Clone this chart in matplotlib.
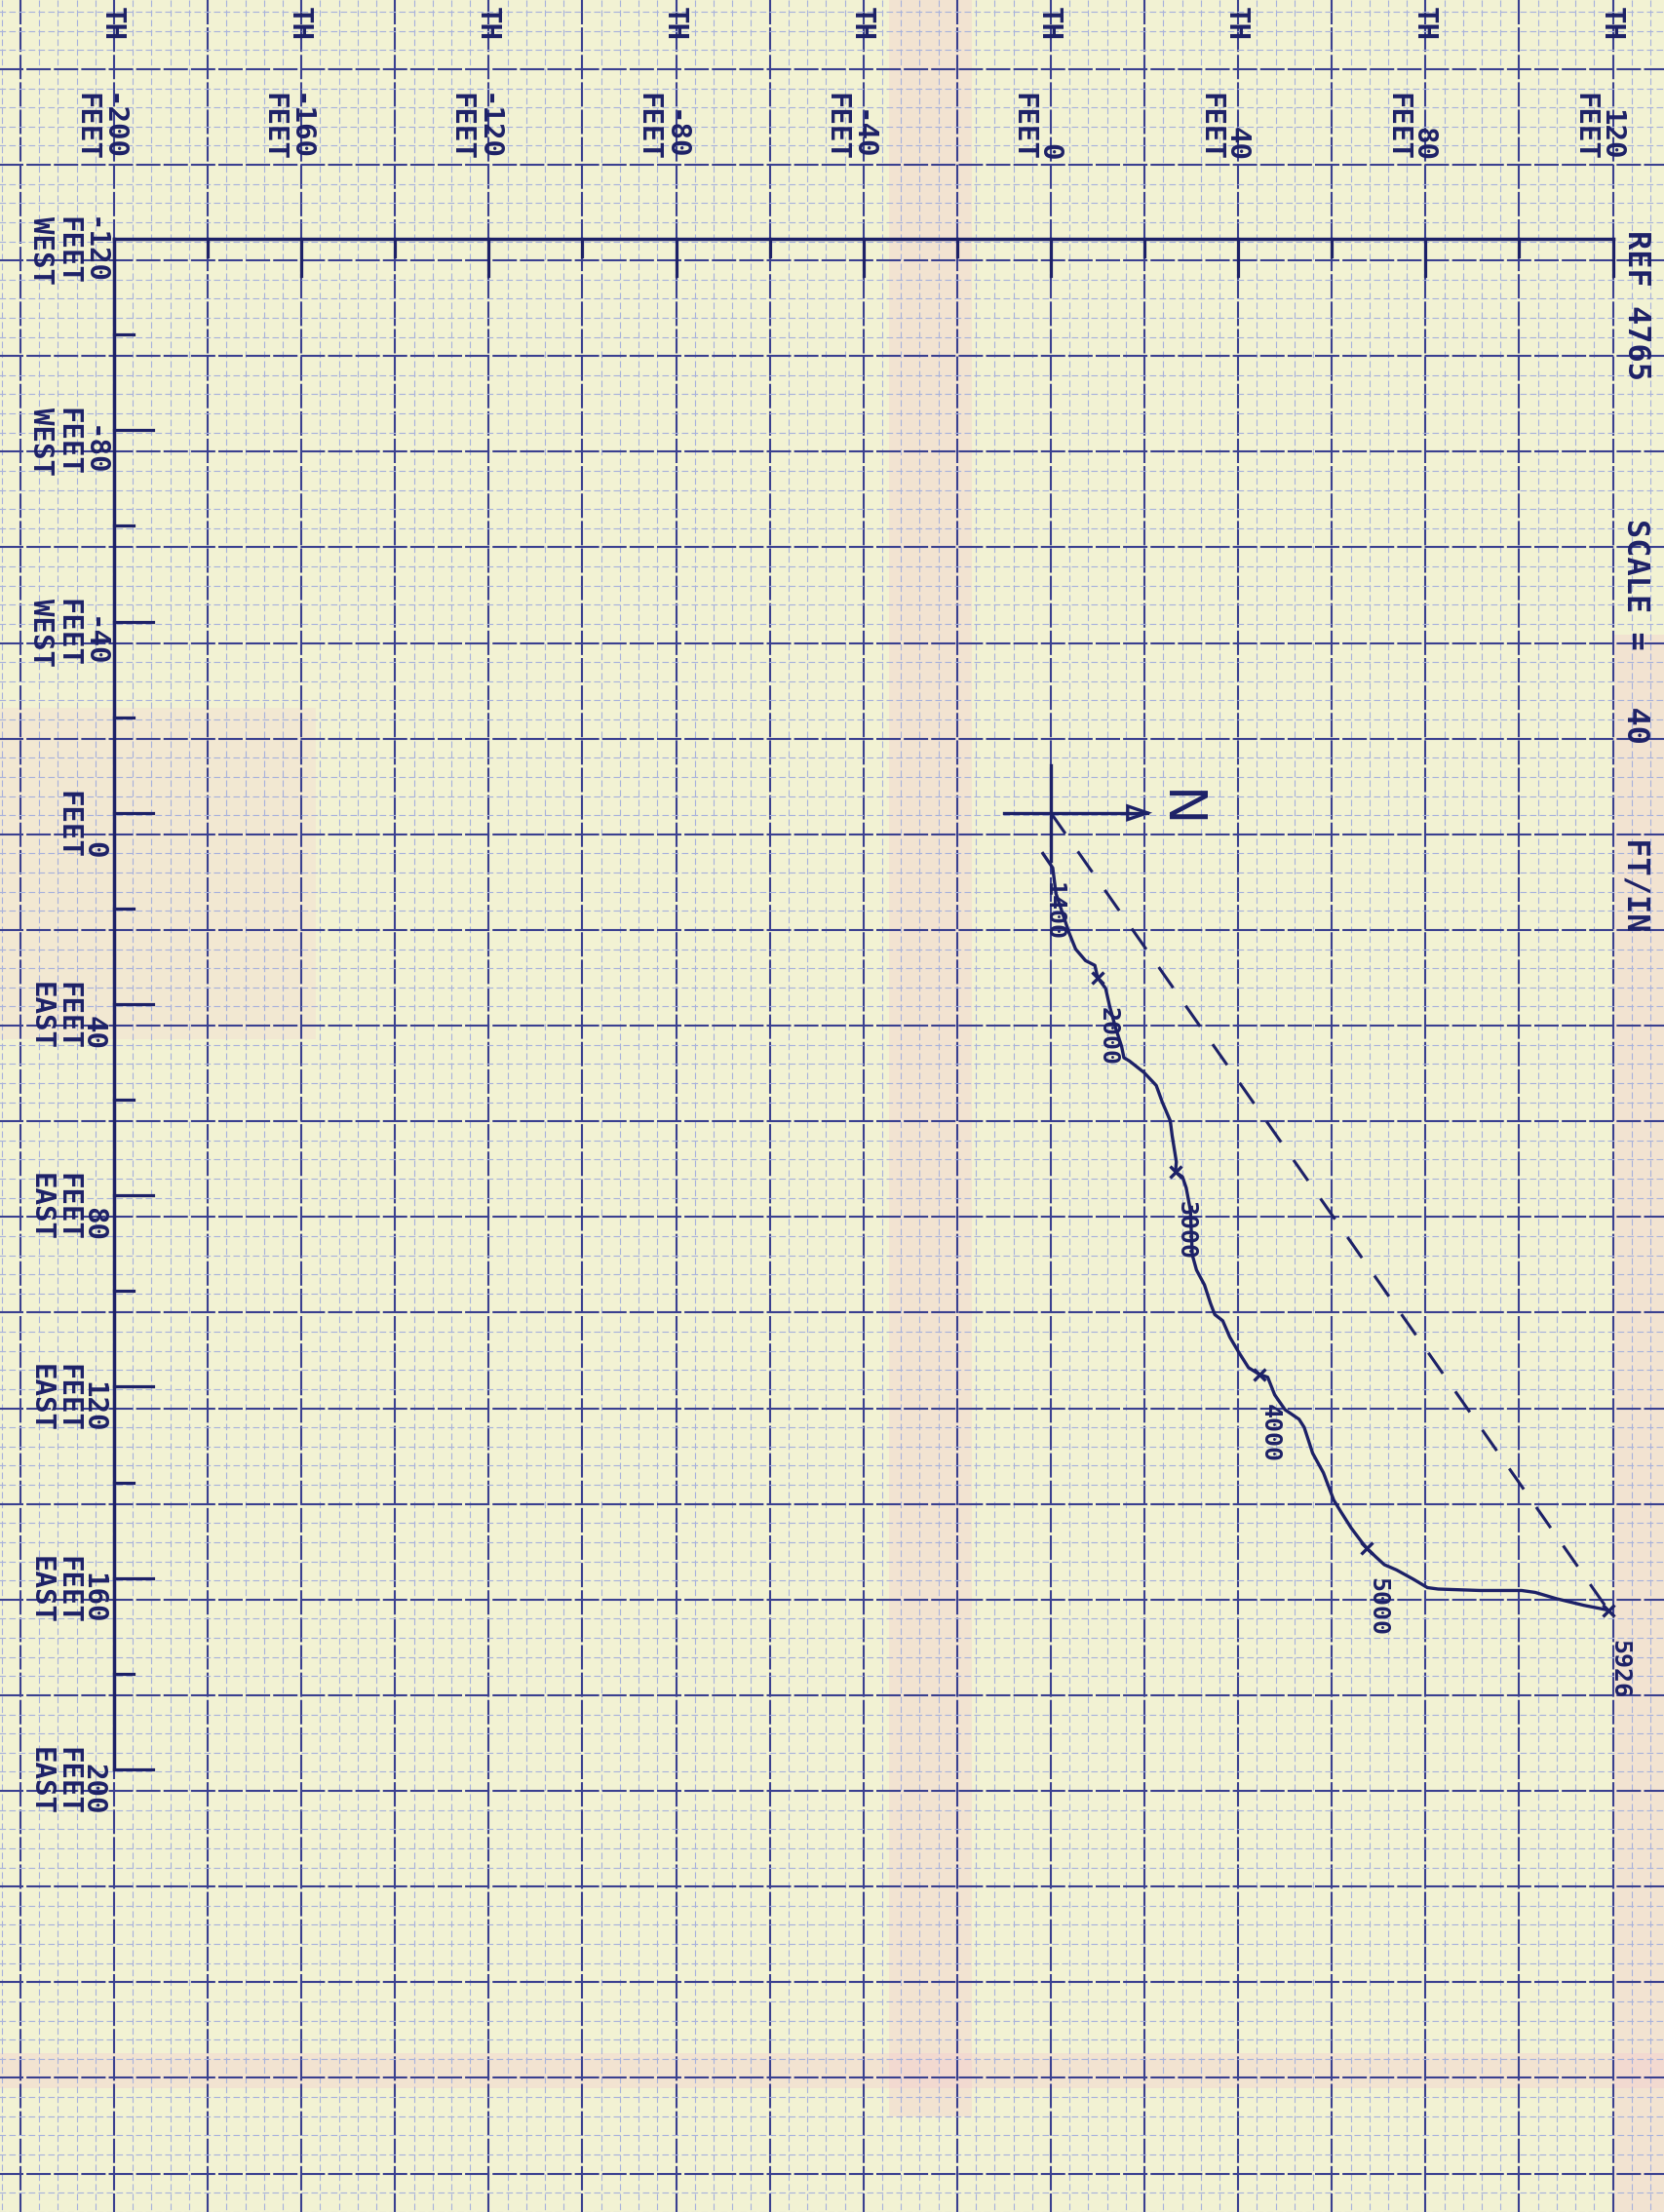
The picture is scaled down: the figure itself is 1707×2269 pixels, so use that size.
import numpy as np
import matplotlib
matplotlib.use("Agg")
import matplotlib.pyplot as plt
from matplotlib.patches import Polygon, Rectangle

# survey trace, feet north (x) and feet east (y, drawn downward)
north = [-1.7, 0.4, 1.1, 2.5, 3.9, 5.3, 7.4, 9.4, 10.0, 11.7, 12.5, 13.8, 15.1,
         15.6, 16.8, 19.9, 22.5, 23.8, 25.5, 25.9, 26.8, 26.6, 28.1, 28.9, 29.8,
         30.2, 31.1, 32.8, 34.1, 35.0, 36.7, 38.2, 40.0, 42.2, 44.5, 46.3, 47.8,
         50.0, 53.0, 54.1, 55.9, 58.2, 60.4, 61.9, 64.1, 66.4, 67.5, 69.3, 71.2,
         73.8, 77.5, 80.4, 82.7, 91.6, 100.5, 103.4, 107.9, 113.8, 119.0]
east = [8.5, 11.5, 16.9, 21.0, 25.1, 28.5, 30.9, 31.9, 34.5, 36.7, 40.2, 44.9,
        48.8, 51.2, 51.9, 54.3, 57.0, 60.5, 64.4, 67.5, 73.0, 75.1, 76.1, 78.4,
        83.1, 92.4, 95.6, 98.7, 102.6, 104.9, 106.2, 109.6, 112.6, 116.0, 117.4,
        118.0, 121.7, 124.8, 126.8, 128.5, 133.9, 138.0, 143.7, 146.1, 149.5,
        152.5, 153.8, 155.5, 157.2, 158.3, 160.3, 162.0, 162.3, 162.6, 162.6,
        163.0, 164.3, 165.7, 166.7]

depth_labels = ["1400", "2000", "3000", "4000", "5000", "5926"]
depth_north = [-1.7, 10.0, 26.6, 44.5, 67.5, 119.0]
depth_east = [8.5, 34.5, 75.1, 117.4, 153.8, 166.7]

north_ticks = [-200, -160, -120, -80, -40, 0, 40, 80, 120]
east_ticks = [-120, -80, -40, 0, 40, 80, 120, 160, 200]

ref_text = "REF 4765"
scale_text = "SCALE =   40     FT/IN"
# only the tail of the "NORTH" line made it onto the sheet
north_tail = "TH"

paper = "#f2f2d3"
ink = "#1d2167"
grid_major = "#3a4090"
grid_minor = "#a7b1dc"
pink = "#f3c3ce"
mono = "DejaVu Sans Mono"

fig = plt.figure(figsize=(17.07, 22.69), dpi=100)
fig.patch.set_facecolor(paper)
ax = fig.add_axes([0, 0, 1, 1])
ax.set_facecolor(paper)
ax.set_xlim(-224.35, 130.91)
ax.set_ylim(292.55, -169.95)
ax.axis("off")

# faint pink stains on the sheet
for (x0, y0, w, h, a) in [(0.534, 0.043, 0.05, 0.957, 0.3),
                          (0.970, 0.0, 0.03, 0.713, 0.3),
                          (0.0, 0.53, 0.19, 0.15, 0.2),
                          (0.0, 0.056, 1.0, 0.016, 0.3)]:
    ax.add_patch(Rectangle((x0, y0), w, h, transform=ax.transAxes,
                           color=pink, alpha=a, lw=0, zorder=0))

# chart paper grid
vx = np.arange(-224, 132, 4)
vmaj = vx % 20 == 0
ax.vlines(vx[~vmaj], -170, 293, color=grid_minor, lw=0.8, ls=(0, (6, 3)), zorder=1)
ax.vlines(vx[vmaj], -170, 293, color=grid_major, lw=1.5, ls=(0, (12, 1.5)), zorder=1)
k = np.arange(-44, 73)
hy = 4.5 + 4 * k
hmaj = k % 5 == 0
ax.hlines(hy[~hmaj], -225, 131, color=grid_minor, lw=0.8, ls=(0, (6, 3)), zorder=1)
ax.hlines(hy[hmaj], -225, 131, color=grid_major, lw=1.5, ls=(0, (12, 1.5)), zorder=1)

# plotter axes
n0, e0 = north_ticks[0], east_ticks[0]
ax.plot([n0, north_ticks[-1]], [e0, e0], color=ink, lw=2.5, zorder=3)
ax.plot([n0, n0], [e0, east_ticks[-1]], color=ink, lw=2.5, zorder=3)
for v in north_ticks[1:]:
    ax.plot([v, v], [e0, e0 + 7.8], color=ink, lw=2.3, zorder=3)
for v in north_ticks[:-1]:
    ax.plot([v + 20, v + 20], [e0, e0 + 3.7], color=ink, lw=2.3, zorder=3)
for v in east_ticks[1:]:
    ax.plot([n0, n0 + 8.3], [v, v], color=ink, lw=2.3, zorder=3)
for v in east_ticks[:-1]:
    ax.plot([n0, n0 + 4.2], [v + 20, v + 20], color=ink, lw=2.3, zorder=3)

# axis labels, written sideways like the plotter did
for v in north_ticks:
    ax.text(v + 2.5, -150.6, f"{v}\nFEET", rotation=-90, ha="right", va="top",
            family=mono, fontweight="bold", fontsize=21, color=ink,
            linespacing=0.95, zorder=4)
    ax.text(v + 2.5, -161.4, north_tail, rotation=-90, ha="right", va="bottom",
            family=mono, fontweight="bold", fontsize=21, color=ink, zorder=4)
for v in east_ticks:
    side = "WEST" if v < 0 else ("EAST" if v > 0 else "")
    lab = f"{v}\nFEET" + (f"\n{side}" if side else "")
    ax.text(-201.5, v - 4.7, lab, rotation=-90, ha="right", va="top",
            family=mono, fontweight="bold", fontsize=21, color=ink,
            linespacing=0.95, zorder=4)

ax.text(128.2, -121.8, ref_text, rotation=-90, ha="right", va="top",
        family=mono, fontweight="bold", fontsize=23, color=ink, zorder=4)
ax.text(128.2, -61.5, scale_text, rotation=-90, ha="right", va="top",
        family=mono, fontweight="bold", fontsize=23, color=ink, zorder=4)

# north arrow at the wellhead
arm, tip, head_len, head_w = 10, 20.6, 4.2, 1.4
ax.plot([-arm, tip], [0, 0], color=ink, lw=2.4, zorder=4)
ax.plot([0, 0], [-arm, arm], color=ink, lw=2.4, zorder=4)
ax.add_patch(Polygon([[tip, 0], [tip - head_len, -head_w], [tip - head_len, head_w]],
                     closed=True, fill=False, edgecolor=ink, lw=2.4, zorder=4))
ax.text(27.3, -0.8, "N", rotation=-90, ha="center", va="center",
        fontsize=38, color=ink, zorder=4)

# closure line and survey trace
ax.plot([0, north[-1]], [0, east[-1]], color=ink, lw=2.2,
        ls=(0, (8.5, 7.3)), zorder=5)
ax.plot(north, east, color=ink, lw=2.4, zorder=6)
ax.plot(depth_north[1:], depth_east[1:], ls="none", marker="x", ms=8,
        mew=2.4, color=ink, zorder=7)
for lab, n, e in zip(depth_labels, depth_north, depth_east):
    ax.annotate(lab, (n, e), xytext=(11, -30), textcoords="offset pixels",
                rotation=-90, ha="center", va="top", family=mono,
                fontweight="bold", fontsize=18, color=ink, zorder=7)

fig.savefig("out.png", dpi=100, facecolor=paper)
